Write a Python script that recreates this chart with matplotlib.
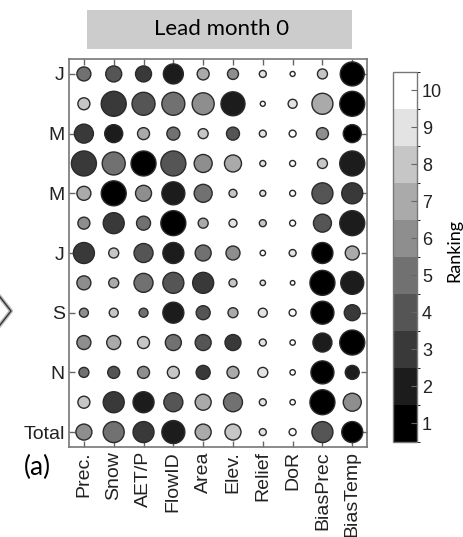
import numpy as np
import matplotlib
matplotlib.use('Agg')
import matplotlib.pyplot as plt
from matplotlib.colors import ListedColormap, BoundaryNorm
from matplotlib.lines import Line2D

## Datos: ranking (1 = mas importante) y tamaño del circulo (importancia)
variables = ['Prec.', 'Snow', 'AET/P', 'FlowID', 'Area', 'Elev.', 'Relief', 'DoR', 'BiasPrec', 'BiasTemp']
filas = ['J', '', 'M', '', 'M', '', 'J', '', 'S', '', 'N', '', 'Total']

ranking = [
    [5, 4, 3, 2, 7, 6, 9, 10, 8, 1],
    [8, 3, 4, 5, 6, 2, 10, 9, 7, 1],
    [3, 2, 7, 5, 8, 4, 9, 10, 6, 1],
    [3, 5, 1, 4, 6, 7, 9, 10, 8, 2],
    [7, 1, 6, 2, 5, 8, 9, 10, 4, 3],
    [6, 3, 5, 1, 7, 9, 8, 10, 4, 2],
    [3, 8, 4, 2, 5, 6, 10, 9, 1, 7],
    [6, 7, 5, 4, 3, 8, 9, 10, 1, 2],
    [6, 8, 5, 2, 4, 7, 9, 10, 1, 3],
    [6, 7, 8, 5, 4, 3, 9, 10, 2, 1],
    [5, 4, 6, 8, 3, 7, 9, 10, 1, 2],
    [8, 3, 2, 4, 7, 5, 9, 10, 1, 6],
    [6, 5, 3, 2, 7, 8, 9, 10, 4, 1],
]

importancia = [
    [7, 8, 8, 10, 6, 5.5, 3.5, 2.5, 5, 12],
    [6, 12.5, 11.5, 11.5, 11, 12, 2.5, 4.5, 10.5, 12.5],
    [9.5, 9, 6, 6.5, 5, 6.5, 3.5, 3.5, 6, 9],
    [12.5, 11.5, 12.5, 12.5, 9, 8.5, 3, 3, 5, 12.5],
    [7, 12.5, 8, 11.5, 9, 4, 3, 3, 10.5, 10.5],
    [6, 10.5, 7, 12.5, 5, 4, 3.5, 3, 9, 12.5],
    [10.5, 5, 9.5, 10.5, 8, 7, 2.7, 3.5, 10.5, 7],
    [7, 5, 9.5, 10.5, 10.5, 4, 2.7, 2.3, 12.5, 11.5],
    [4.5, 4.5, 4.5, 10.5, 7, 5, 4.5, 3.5, 11.5, 8],
    [7, 7, 6, 8, 8, 8, 3.5, 2.7, 9.5, 12.5],
    [5, 6, 6, 6, 7, 6, 5, 2.7, 11.5, 7],
    [6, 10.5, 10.5, 9.5, 8, 9.5, 3.5, 2.7, 12.5, 9],
    [8, 10.5, 10.5, 11.5, 8, 8, 3.5, 3.5, 10.5, 10.5],
]

R = np.array(ranking)
S = np.array(importancia)
nf, nc = R.shape
X, Y = np.meshgrid(np.arange(1, nc + 1), np.arange(1, nf + 1))

# Escala de grises de 10 niveles
grises = np.linspace(0, 1, 10)
cmap = ListedColormap([(g, g, g) for g in grises])
norm = BoundaryNorm(np.arange(0.5, 11.5, 1), cmap.N)

fig = plt.figure(figsize=(4.63, 5.37), dpi=100)
ax = fig.add_axes([0.149, 0.1676, 0.644, 0.7225])

tam = (2 * S * 0.72) ** 2
sc = ax.scatter(X.ravel(), Y.ravel(), s=tam.ravel(), c=R.ravel(), cmap=cmap, norm=norm,
                edgecolors='#2a2a2a', linewidths=1.0, zorder=3)

ax.set_xlim(0.5, nc + 0.5)
ax.set_ylim(nf + 0.5, 0.5)
ax.set_xticks(np.arange(1, nc + 1))
ax.set_xticklabels(variables, rotation=90, fontsize=14, family='Liberation Sans')
pos = [i + 1 for i, f in enumerate(filas) if f != '']
ax.set_yticks(pos)
ax.set_yticklabels([f for f in filas if f != ''], fontsize=14, family='Liberation Sans')
ax.tick_params(direction='in', top=True, right=True, length=4, width=1, color='#666666',
               labelcolor='#222222', pad=3)
for sp in ax.spines.values():
    sp.set_color('#777777')
    sp.set_linewidth(1.2)

# Barra de color
cax = fig.add_axes([0.849, 0.177, 0.052, 0.689])
cb = fig.colorbar(sc, cax=cax, ticks=np.arange(1, 11))
cb.ax.tick_params(direction='in', length=4, labelsize=13, color='#666666', labelcolor='#222222')
for t in cb.ax.get_yticklabels():
    t.set_family('Liberation Sans')
cb.outline.set_edgecolor('#777777')
cb.outline.set_linewidth(1.0)
fig.text(0.982, 0.534, 'Ranking', rotation=90, ha='center', va='center', fontsize=13, family='Lato')

# Titulo en caja gris
fig.patches.append(plt.Rectangle((87 / 463, 1 - 49 / 537), 265 / 463, 39 / 537,
                                 transform=fig.transFigure, facecolor='#cccccc', edgecolor='none'))
fig.text(222 / 463, 1 - 29 / 537, 'Lead month 0', ha='center', va='center', fontsize=16, family='Lato')

fig.text(37 / 463, 1 - 467 / 537, '(a)', ha='center', va='center', fontsize=19, family='Lato')

# Flecha cortada a la izquierda
fig.add_artist(Line2D([0, 11 / 463, 0], [1 - 297 / 537, 1 - 311 / 537, 1 - 325 / 537],
                      transform=fig.transFigure, color='#bbbbbb', linewidth=3))
fig.add_artist(Line2D([0, 11 / 463, 0], [1 - 297 / 537, 1 - 311 / 537, 1 - 325 / 537],
                      transform=fig.transFigure, color='#333333', linewidth=1))

fig.savefig('out.png', dpi=100)
